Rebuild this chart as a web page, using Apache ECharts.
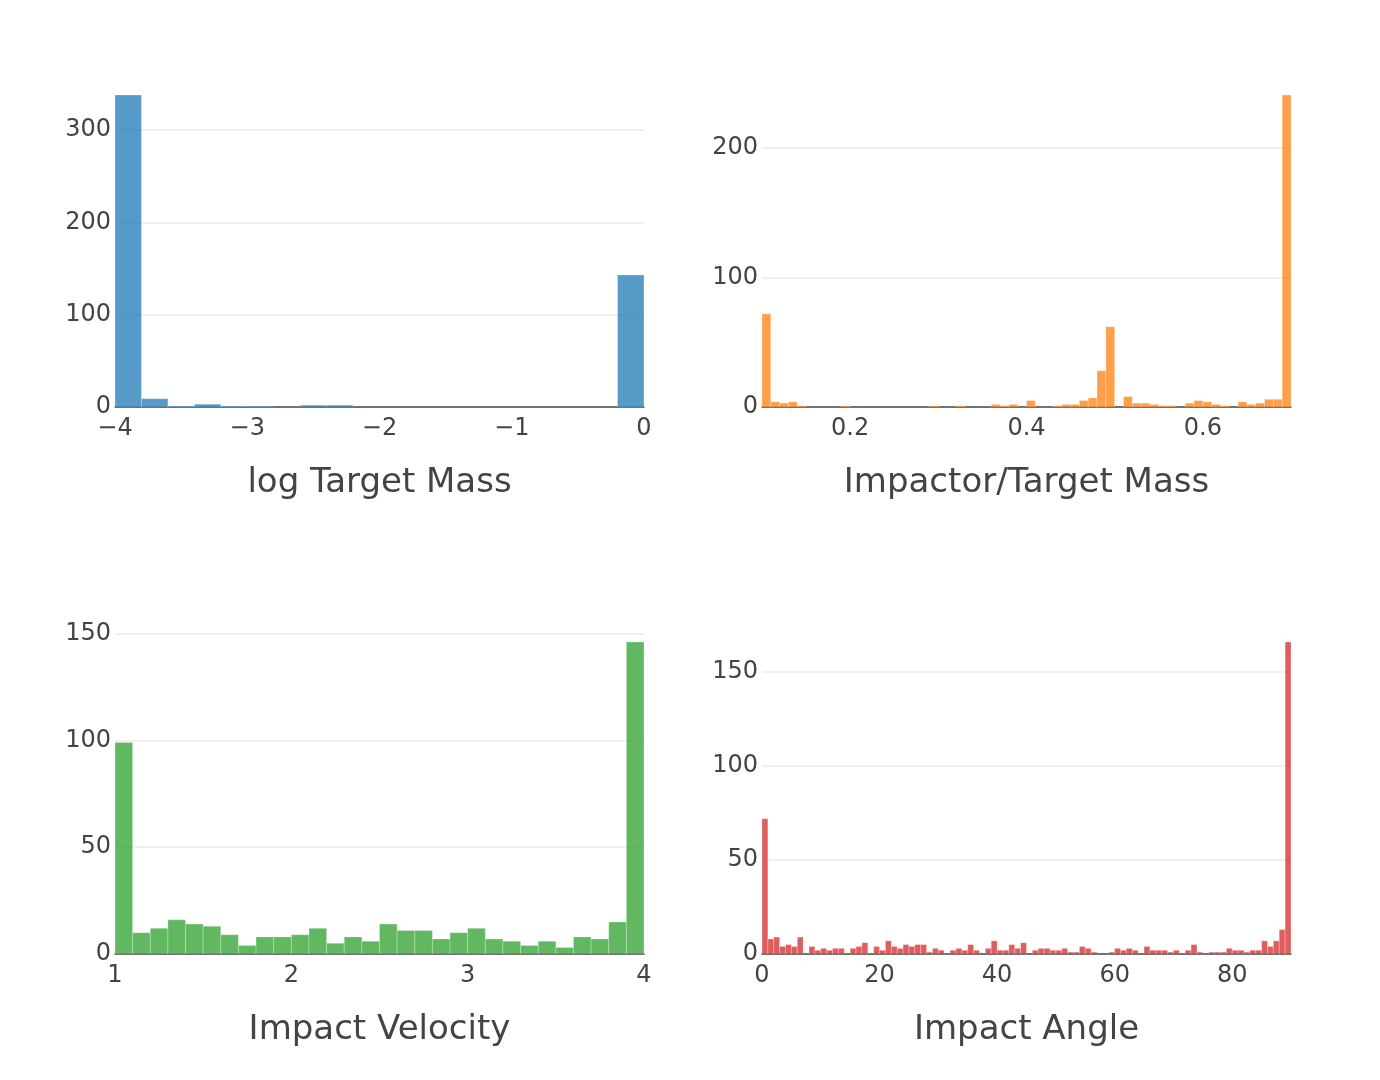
<!DOCTYPE html>
<html>
<head>
<meta charset="utf-8">
<title>Impact histograms</title>
<script src="https://cdn.jsdelivr.net/npm/echarts@6/dist/echarts.min.js"></script>
<style>
  html, body { margin: 0; padding: 0; background: #fff; }
  #chart { width: 1380px; height: 1080px; }
</style>
</head>
<body>
<div id="chart"></div>
<script>
// bin counts
const massBinStart = -4, massBinWidth = 0.2
const massCounts = [338, 9, 1, 3, 1, 1, 0, 2, 2, 0, 0, 0, 0, 0, 0, 0, 0, 0, 0, 143]

const ratioBinStart = 0.1, ratioBinWidth = 0.01
const ratioCounts = [
  72, 4, 3, 4, 1, 0, 0, 0, 0, 1,
  0, 0, 0, 0, 0, 0, 0, 0, 0, 1,
  0, 0, 1, 0, 0, 0, 2, 1, 2, 0,
  5, 0, 0, 1, 2, 2, 5, 7, 28, 62,
  0, 8, 3, 3, 2, 1, 1, 0, 3, 5,
  4, 2, 1, 0, 4, 2, 3, 6, 6, 241
]

const velocityBinStart = 1, velocityBinWidth = 0.1
const velocityCounts = [
  99, 10, 12, 16, 14, 13, 9, 4, 8, 8,
  9, 12, 5, 8, 6, 14, 11, 11, 7, 10,
  12, 7, 6, 4, 6, 3, 8, 7, 15, 146
]

const angleBinStart = 0, angleBinWidth = 1
const angleCounts = [
  72, 8, 9, 4, 5, 4, 9, 0, 4, 2,
  3, 2, 3, 3, 0, 3, 4, 6, 0, 4,
  2, 7, 4, 3, 5, 4, 5, 5, 1, 3,
  2, 0, 2, 3, 2, 5, 2, 0, 3, 7,
  2, 2, 5, 3, 6, 0, 2, 3, 3, 2,
  2, 3, 1, 1, 4, 3, 1, 0, 0, 1,
  3, 2, 3, 2, 0, 4, 2, 2, 2, 1,
  2, 0, 2, 5, 1, 0, 1, 1, 1, 3,
  2, 2, 1, 2, 2, 7, 4, 7, 13, 166
]

const massTicks = [-4, -3, -2, -1, 0]
const ratioTicks = [0.2, 0.4, 0.6]
const velocityTicks = [1, 2, 3, 4]
const angleTicks = [0, 20, 40, 60, 80]

// velocity panel: y range runs a bit past the tallest bar so the 150 line shows
const panels = [
  { title: 'log Target Mass', start: massBinStart, width: massBinWidth, counts: massCounts,
    ticks: massTicks, xmin: -4, xmax: 0, ymax: 338, yInterval: 100, color: 'rgba(31,119,180,0.75)',
    left: 115, top: 95, height: 312, topLine: false },
  { title: 'Impactor/Target Mass', start: ratioBinStart, width: ratioBinWidth, counts: ratioCounts,
    ticks: ratioTicks, xmin: 0.1, xmax: 0.7, ymax: 241, yInterval: 100, color: 'rgba(255,127,14,0.75)',
    left: 762, top: 95, height: 312, topLine: false },
  { title: 'Impact Velocity', start: velocityBinStart, width: velocityBinWidth, counts: velocityCounts,
    ticks: velocityTicks, xmin: 1, xmax: 4, ymax: 150, yInterval: 50, color: 'rgba(44,160,44,0.75)',
    left: 115, top: 633.5, height: 320.5, topLine: true },
  { title: 'Impact Angle', start: angleBinStart, width: angleBinWidth, counts: angleCounts,
    ticks: angleTicks, xmin: 0, xmax: 90, ymax: 166, yInterval: 50, color: 'rgba(214,39,40,0.75)',
    left: 762, top: 642, height: 312, topLine: false }
]

const font = 'DejaVu Sans'

function renderBin(params, api) {
  const c = api.value(2)
  if (!c) return
  const p0 = api.coord([api.value(0), c])
  const p1 = api.coord([api.value(1), 0])
  return {
    type: 'rect',
    shape: { x: p0[0], y: p0[1], width: p1[0] - p0[0], height: p1[1] - p0[1] },
    style: { fill: api.visual('color'), stroke: 'rgba(255,255,255,0.45)', lineWidth: 0.6 }
  }
}

const option = {
  animation: false,
  backgroundColor: '#fff',
  grid: [], xAxis: [], yAxis: [], series: []
}

panels.forEach((p, i) => {
  option.grid.push({ left: p.left, top: p.top, width: 529, height: p.height })
  option.xAxis.push({
    gridIndex: i, type: 'value', min: p.xmin, max: p.xmax,
    name: p.title, nameLocation: 'middle', nameGap: 59,
    nameTextStyle: { fontFamily: font, fontSize: 34, color: '#444' },
    axisLine: { show: true, lineStyle: { color: '#444', width: 1.5 } },
    axisTick: { show: false },
    splitLine: { show: false },
    axisLabel: {
      customValues: p.ticks, margin: 10,
      fontFamily: font, fontSize: 24, color: '#444',
      formatter: v => String(v).replace('-', '\u2212')
    }
  })
  option.yAxis.push({
    gridIndex: i, type: 'value', min: 0, max: p.ymax, interval: p.yInterval,
    axisLine: { show: false },
    axisTick: { show: false },
    splitLine: { show: true, showMinLine: false, showMaxLine: p.topLine, lineStyle: { color: '#ebebeb', width: 1.5 } },
    axisLabel: { showMaxLabel: p.topLine, margin: 4, padding: [6, 0, 0, 0], fontFamily: font, fontSize: 24, color: '#444' }
  })
  option.series.push({
    type: 'custom', xAxisIndex: i, yAxisIndex: i, clip: true,
    itemStyle: { color: p.color },
    renderItem: renderBin,
    encode: { x: [0, 1], y: 2 },
    data: p.counts.map((c, k) => [p.start + k * p.width, p.start + (k + 1) * p.width, c])
  })
})

const myChart = echarts.init(document.getElementById('chart'))
myChart.setOption(option)
</script>
</body>
</html>
